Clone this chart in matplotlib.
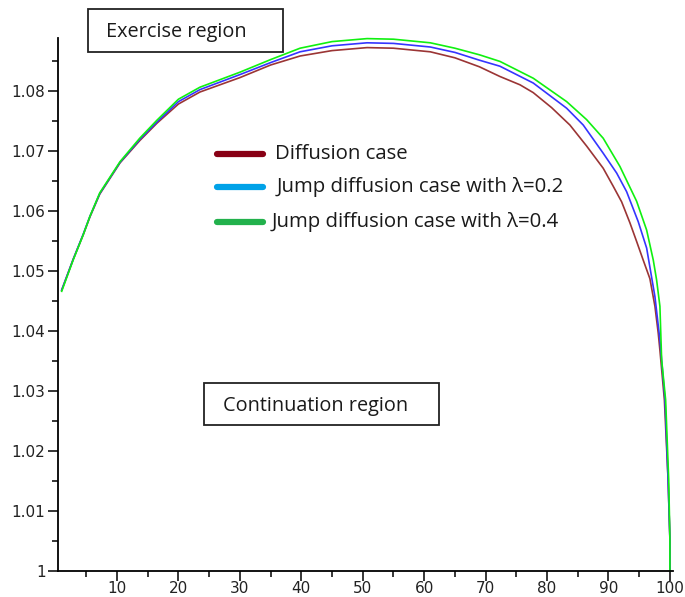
import matplotlib
matplotlib.use("Agg")
import matplotlib.pyplot as plt
from matplotlib.lines import Line2D
from matplotlib.patches import Rectangle
from matplotlib.ticker import MultipleLocator, FuncFormatter

# ---- data ----
x_diff = [1.0, 2.9, 4.5, 5.6, 7.2, 10.5, 13.7, 16.5, 20, 23.5,
          30, 35, 39.8, 45, 50.7, 55, 61, 65, 69, 72.3,
          75.6, 77.75, 80.74, 83.72, 86.44, 89.14, 90.77, 92.14, 93.49, 94.58,
          95.65, 96.74, 97.56, 98.1, 98.37, 99.1, 99.7, 100, 100]
y_diff = [1.0468, 1.0520, 1.0560, 1.0590, 1.0628, 1.0680, 1.0717, 1.0746, 1.0778, 1.0798,
          1.0822, 1.0843, 1.0858, 1.0867, 1.0872, 1.0871, 1.0865, 1.0855, 1.0840, 1.0824,
          1.0810, 1.0797, 1.0772, 1.0743, 1.0708, 1.0671, 1.0641, 1.0615, 1.0580, 1.0549,
          1.0518, 1.0487, 1.0441, 1.0396, 1.0368, 1.0285, 1.0152, 1.0052, 1.0]

x_jump02 = [1.0, 2.9, 4.5, 5.6, 7.2, 10.5, 13.7, 16.5, 20, 23.5,
            30, 35, 39.8, 45, 50.7, 55, 61, 65, 69, 72.33,
            77.75, 83.19, 85.89, 89.14, 91.33, 92.95, 94.84, 96.21, 97.56, 98.37,
            99.2, 99.7, 100, 100]
y_jump02 = [1.0468, 1.0520, 1.0561, 1.0591, 1.0629, 1.0681, 1.0719, 1.0748, 1.0782, 1.0802,
            1.0827, 1.0847, 1.0865, 1.0875, 1.0880, 1.0879, 1.0873, 1.0864, 1.0851, 1.0841,
            1.0813, 1.0771, 1.0743, 1.0696, 1.0663, 1.0632, 1.0582, 1.0538, 1.0457, 1.0385,
            1.0285, 1.0152, 1.0052, 1.0]

x_jump04 = [1.0, 2.9, 4.5, 5.6, 7.2, 10.5, 13.7, 16.5, 20, 23.5,
            30, 35, 39.8, 45, 50.7, 55, 61, 65, 69, 72.33,
            77.75, 83.19, 86.44, 89.14, 91.86, 94.58, 96.21, 97.29, 97.83, 98.37,
            98.65, 99.3, 99.8, 100, 100]
y_jump04 = [1.0466, 1.0519, 1.0560, 1.0591, 1.0630, 1.0682, 1.0721, 1.0751, 1.0786, 1.0806,
            1.0831, 1.0852, 1.0871, 1.0882, 1.0887, 1.0886, 1.0880, 1.0871, 1.0860, 1.0849,
            1.0821, 1.0782, 1.0752, 1.0721, 1.0674, 1.0616, 1.0568, 1.0518, 1.0485, 1.0441,
            1.0352, 1.0285, 1.0152, 1.0052, 1.0]

x_ticks = [10, 20, 30, 40, 50, 60, 70, 80, 90, 100]
y_ticks = [1.00, 1.01, 1.02, 1.03, 1.04, 1.05, 1.06, 1.07, 1.08]

legend_labels = ["Diffusion case",
                 "Jump diffusion case with \u03bb=0.2",
                 "Jump diffusion case with \u03bb=0.4"]
legend_colors = ["#880015", "#00A2E8", "#22B14C"]
line_colors = ["#9B3535", "#3535FF", "#10F010"]

# ---- figure ----
W, H = 685, 597
fig = plt.figure(figsize=(W / 100, H / 100), dpi=100)
ax_left, ax_right, ax_bottom, ax_top = 58, 673, 571, 38
ax = fig.add_axes([ax_left / W, 1 - ax_bottom / H,
                   (ax_right - ax_left) / W, (ax_bottom - ax_top) / H])

for xs, ys, c in zip([x_diff, x_jump02, x_jump04],
                     [y_diff, y_jump02, y_jump04], line_colors):
    ax.plot(xs, ys, color=c, lw=1.2, clip_on=False)

ax.set_xlim(0.4, 100.5)
ax.set_ylim(1.0, 1.0888)

for s in ["top", "right"]:
    ax.spines[s].set_visible(False)
for s in ["left", "bottom"]:
    ax.spines[s].set_linewidth(1.3)
    ax.spines[s].set_color("black")

ax.set_xticks(x_ticks)
ax.set_yticks(y_ticks)
ax.xaxis.set_minor_locator(MultipleLocator(5))
ax.yaxis.set_minor_locator(MultipleLocator(0.005))
ax.yaxis.set_major_formatter(FuncFormatter(lambda v, p: "1" if abs(v - 1) < 1e-9 else f"{v:.2f}"))
ax.tick_params(which="major", direction="out", length=7, width=1.1, labelsize=11, pad=2,
               labelcolor="#222222")
ax.tick_params(axis="x", which="major", pad=0.5)
ax.tick_params(which="minor", direction="out", length=4, width=1.1)

# ---- text boxes ----
TXT_FONT = "Open Sans"

def box(x0, y0, x1, y1, text, tx, ty, size):
    fig.add_artist(Rectangle((x0 / W, 1 - y1 / H), (x1 - x0) / W, (y1 - y0) / H,
                             transform=fig.transFigure, fill=False,
                             edgecolor="#222222", lw=1.3))
    fig.text(tx / W, 1 - ty / H, text, ha="center", va="center",
             fontsize=size, family=TXT_FONT, color="#1a1a1a")

box(88, 9, 283, 52, "Exercise region", 176, 32, 14.3)
box(204, 383, 439, 425, "Continuation region", 316, 406, 14.3)

# ---- legend (drawn as in the reference) ----
leg_y = [154, 187, 222]
leg_tx = [275, 277, 272]
for lab, c, yy, tx in zip(legend_labels, legend_colors, leg_y, leg_tx):
    fig.add_artist(Line2D([217 / W, 263 / W], [1 - yy / H, 1 - yy / H],
                          transform=fig.transFigure, color=c, lw=4.5,
                          solid_capstyle="round"))
    fig.text(tx / W, 1 - yy / H, lab, ha="left", va="center",
             fontsize=14.7, family=TXT_FONT, color="#1a1a1a")

fig.savefig("out.png", dpi=100)
